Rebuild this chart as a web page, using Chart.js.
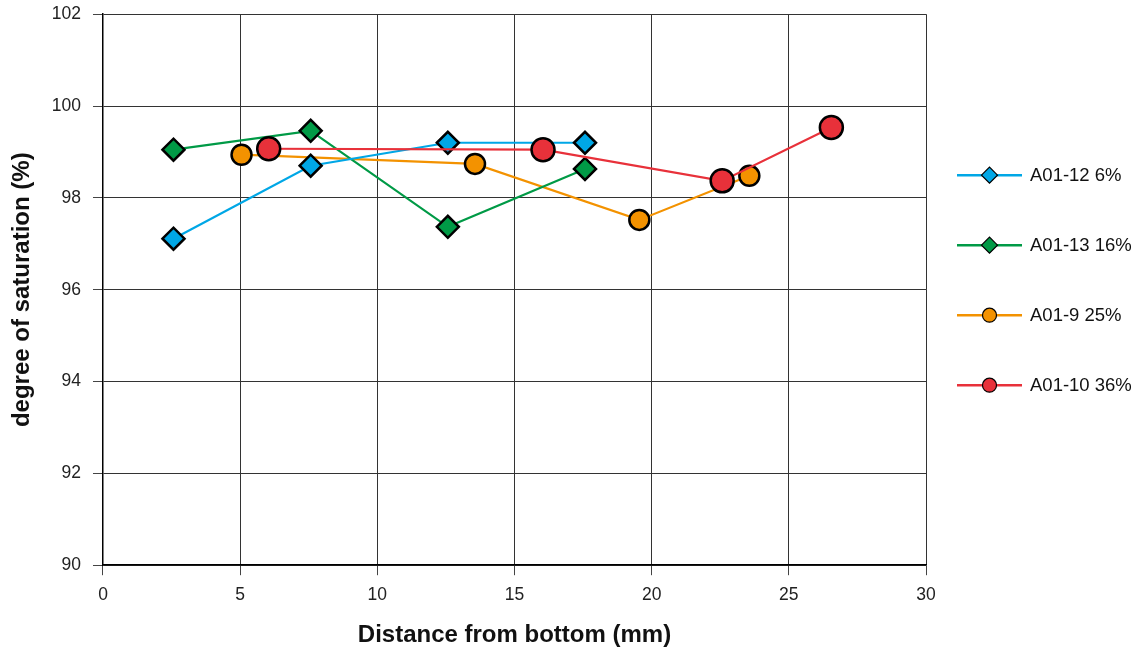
<!DOCTYPE html>
<html>
<head>
<meta charset="utf-8">
<script src="https://cdn.jsdelivr.net/npm/chart.js@4/dist/chart.umd.min.js"></script>
<style>
  html, body { margin: 0; padding: 0; background: #fff; }
  #wrap { width: 1143px; height: 651px; position: relative; }
</style>
</head>
<body>
<div id="wrap"><canvas id="c"></canvas></div>
<script>
// Saturation profiles along the specimen height
const seriesNames = ['A01-12 6%', 'A01-13 16%', 'A01-9 25%', 'A01-10 36%'];

const a0112X = [2.57, 7.57, 12.57, 17.57];
const a0112Y = [97.11, 98.70, 99.20, 99.20];

const a0113X = [2.57, 7.57, 12.57, 17.57];
const a0113Y = [99.05, 99.46, 97.37, 98.63];

const a019X = [5.05, 13.56, 19.55, 23.56];
const a019Y = [98.94, 98.74, 97.52, 98.48];

const a0110X = [6.04, 16.04, 22.57, 26.55];
const a0110Y = [99.07, 99.05, 98.37, 99.53];

const xTicks = [0, 5, 10, 15, 20, 25, 30];
const yTicks = [90, 92, 94, 96, 98, 100, 102];

const FONT = '"Liberation Sans", Arial, sans-serif';
const toPoints = (xs, ys) => xs.map((x, i) => ({ x, y: ys[i] }));

const styles = [
  { color: '#00A7E6', shape: 'rectRot', r: 11, lr: 8, order: 1 },
  { color: '#009A46', shape: 'rectRot', r: 11, lr: 8, order: 2 },
  { color: '#F39200', shape: 'circle', r: 10, lr: 7, order: 3 },
  { color: '#E8313A', shape: 'circle', r: 11.5, lr: 7, order: 0 }
];

const pts = [
  toPoints(a0112X, a0112Y),
  toPoints(a0113X, a0113Y),
  toPoints(a019X, a019Y),
  toPoints(a0110X, a0110Y)
];

const datasets = seriesNames.map((name, i) => ({
  label: name,
  data: pts[i],
  borderColor: styles[i].color,
  backgroundColor: styles[i].color,
  borderWidth: 2.2,
  pointStyle: styles[i].shape,
  pointRadius: styles[i].r,
  pointHoverRadius: styles[i].r,
  pointBorderColor: '#000',
  pointBackgroundColor: styles[i].color,
  pointBorderWidth: 2.5,
  legendRadius: styles[i].lr,
  order: styles[i].order,
  tension: 0,
  fill: false
}));

// Legend drawn as a line with the marker centred on it
const lineLegend = {
  id: 'lineLegend',
  afterDraw(chart) {
    const ctx = chart.ctx;
    const area = chart.chartArea;
    const x0 = area.right + 31, x1 = area.right + 96, xm = (x0 + x1) / 2;
    const startY = area.top + 161, step = 70;
    chart.data.datasets.forEach((ds, i) => {
      const y = startY + i * step;
      ctx.save();
      ctx.strokeStyle = ds.borderColor;
      ctx.lineWidth = 2.5;
      ctx.beginPath(); ctx.moveTo(x0, y); ctx.lineTo(x1, y); ctx.stroke();
      ctx.fillStyle = ds.pointBackgroundColor;
      ctx.strokeStyle = '#000';
      ctx.lineWidth = 1.2;
      ctx.beginPath();
      const r = ds.legendRadius;
      if (ds.pointStyle === 'circle') {
        ctx.arc(xm, y, r, 0, Math.PI * 2);
      } else {
        ctx.moveTo(xm - r, y); ctx.lineTo(xm, y - r); ctx.lineTo(xm + r, y); ctx.lineTo(xm, y + r); ctx.closePath();
      }
      ctx.fill(); ctx.stroke();
      ctx.fillStyle = '#111';
      ctx.font = '18.5px ' + FONT;
      ctx.textBaseline = 'middle';
      ctx.textAlign = 'left';
      ctx.fillText(ds.label, x1 + 8, y + 1);
      ctx.restore();
    });
  }
};

new Chart(document.getElementById('c'), {
  type: 'line',
  data: { datasets },
  options: {
    responsive: true,
    maintainAspectRatio: false,
    animation: false,
    layout: { padding: { left: 8, right: 217, top: 0, bottom: 1.5 } },
    plugins: {
      legend: { display: false },
      tooltip: { enabled: false }
    },
    scales: {
      x: {
        type: 'linear',
        min: 0, max: 30,
        afterBuildTicks: (s) => { s.ticks = xTicks.map(v => ({ value: v })); },
        grid: { color: '#333', lineWidth: 1, tickLength: 10, tickColor: '#444' },
        border: { color: '#000', width: 1.5 },
        ticks: { color: '#222', font: { family: FONT, size: 17.5 }, padding: 9 },
        title: {
          display: true, text: 'Distance from bottom (mm)', color: '#111',
          font: { family: FONT, size: 24, weight: 'bold' },
          padding: { top: 6.5, bottom: 0 }
        }
      },
      y: {
        type: 'linear',
        min: 90, max: 102,
        afterBuildTicks: (s) => { s.ticks = yTicks.map(v => ({ value: v })); },
        grid: { color: '#333', lineWidth: 1, tickLength: 10, tickColor: '#444' },
        border: { color: '#000', width: 1.5 },
        ticks: { color: '#222', font: { family: FONT, size: 17.5, lineHeight: 0.25 }, padding: 12 },
        title: {
          display: true, text: 'degree of saturation (%)', color: '#111',
          font: { family: FONT, size: 24, weight: 'bold' },
          padding: { top: 0, bottom: 3 }
        }
      }
    }
  },
  plugins: [lineLegend]
});
</script>
</body>
</html>
